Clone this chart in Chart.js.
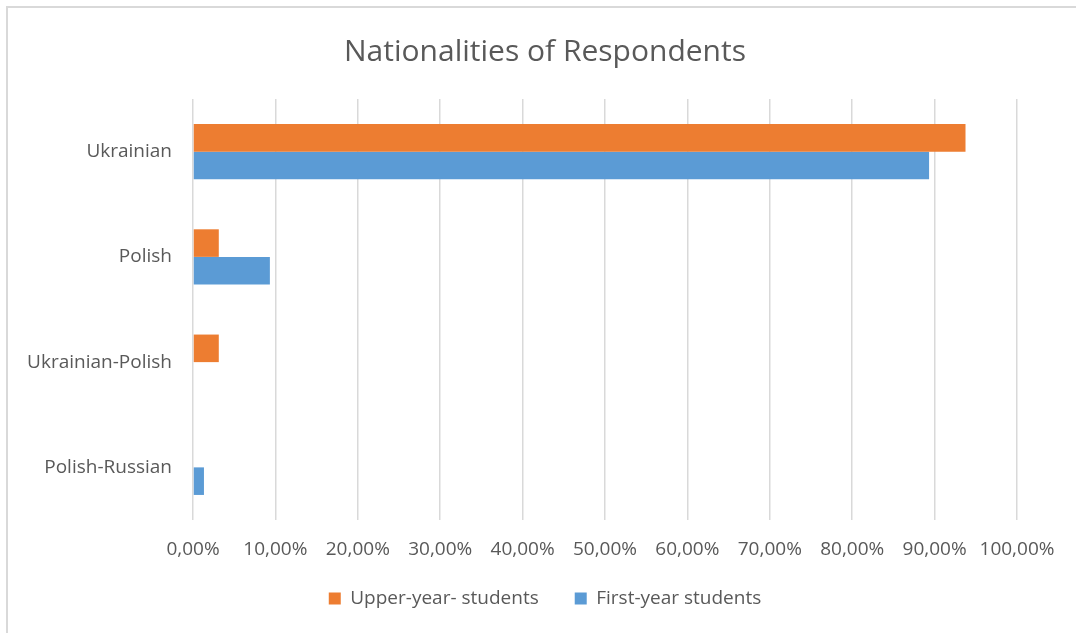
<!DOCTYPE html>
<html>
<head>
<meta charset="utf-8">
<script src="https://cdn.jsdelivr.net/npm/chart.js@4/dist/chart.umd.min.js"></script>
<style>
  html, body { margin: 0; padding: 0; background: #fff; overflow: hidden; }
  #frame {
    position: absolute; left: 6px; top: 6px; width: 2000px; height: 2000px;
    border-top: 2px solid #d9d9d9; border-left: 2px solid #d9d9d9;
  }
  #wrap { position: absolute; left: 0; top: 0; width: 1076px; height: 633px; }
</style>
</head>
<body>
<div id="frame"></div>
<div id="wrap"><canvas id="chart"></canvas></div>
<script>
const categories = ["Ukrainian", "Polish", "Ukrainian-Polish", "Polish-Russian"];
const upperYear = [93.75, 3.13, 3.13, 0];
const firstYear = [89.33, 9.33, 0, 1.33];
const seriesNames = ["Upper-year- students", "First-year students"];

const textColor = "#595959";
const gridColor = "#d9d9d9";
const fontFamily = "'Open Sans', sans-serif";

// percent ticks with a decimal comma
function pct(v) {
    return v.toFixed(2).replace(".", ",") + "%";
}

// pull the legend row a little closer to the axis labels
const legendLift = {
    id: "legendLift",
    afterLayout(chart) {
        const lg = chart.legend;
        if (!lg) return;
        lg.top -= 8;
        lg.bottom -= 8;
    }
};

new Chart(document.getElementById("chart"), {
    type: "bar",
    data: {
        labels: categories,
        datasets: [
            { label: seriesNames[0], data: upperYear, backgroundColor: "#ed7d31" },
            { label: seriesNames[1], data: firstYear, backgroundColor: "#5b9bd5" }
        ]
    },
    options: {
        indexAxis: "y",
        responsive: true,
        maintainAspectRatio: false,
        animation: false,
        categoryPercentage: 0.524,
        barPercentage: 1,
        layout: { padding: { left: 14, right: 0, top: 0, bottom: 7 } },
        scales: {
            x: {
                min: 0,
                max: 100,
                ticks: {
                    stepSize: 10,
                    color: textColor,
                    font: { family: fontFamily, size: 19 },
                    padding: 18,
                    maxRotation: 0,
                    callback: v => pct(v)
                },
                grid: { color: gridColor, lineWidth: 1.5, drawTicks: false },
                border: { display: false },
                // fixed label band, plus room on the right for the last tick label
                afterFit: scale => {
                    scale.height = 41;
                    scale.paddingRight = 59;
                }
            },
            y: {
                ticks: {
                    color: textColor,
                    font: { family: fontFamily, size: 19 },
                    padding: 21
                },
                grid: { display: false, drawTicks: false },
                border: { display: false },
                afterFit: scale => { scale.width = 179; }
            }
        },
        plugins: {
            title: {
                display: true,
                text: "Nationalities of Respondents",
                color: textColor,
                font: { family: fontFamily, size: 30, weight: "normal", lineHeight: 1.2 },
                padding: { top: 34, bottom: 29 }
            },
            legend: {
                position: "bottom",
                labels: {
                    color: textColor,
                    font: { family: fontFamily, size: 19 },
                    boxWidth: 12,
                    boxHeight: 12,
                    padding: 36
                }
            },
            tooltip: { enabled: false }
        }
    },
    plugins: [legendLift]
});
</script>
</body>
</html>
